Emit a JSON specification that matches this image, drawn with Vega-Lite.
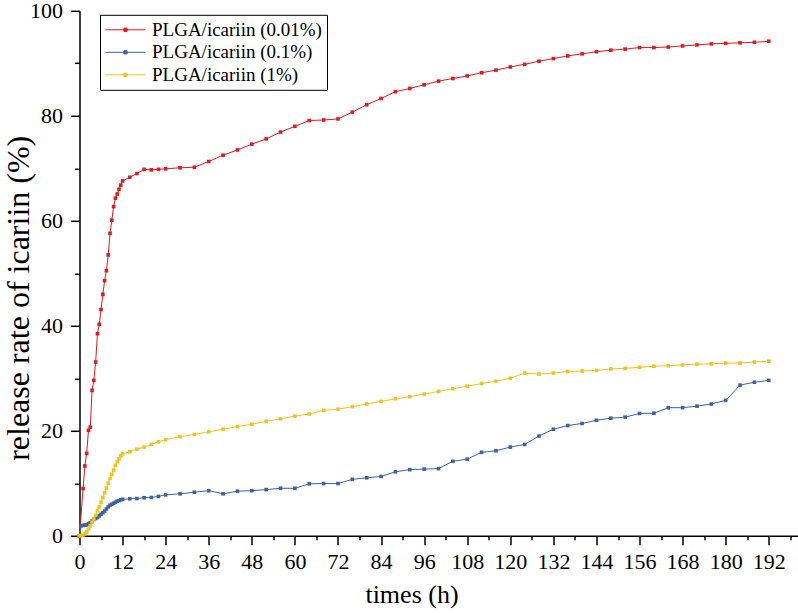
{
  "$schema": "https://vega.github.io/schema/vega-lite/v6.json",
  "autosize": {"type": "none"},
  "padding": {"left": 79.5, "top": 10.8, "right": 0.5, "bottom": 77.2},
  "width": 718,
  "height": 525,
  "background": "white",
  "config": {"view": {"stroke": null}, "font": "Liberation Serif"},
  "data": {"values": [
    {"s":"PLGA/icariin (0.01%)","t":0,"r":0},{"s":"PLGA/icariin (0.01%)","t":1,"r":9.0},{"s":"PLGA/icariin (0.01%)","t":1.5,"r":13.3},{"s":"PLGA/icariin (0.01%)","t":2,"r":15.7},{"s":"PLGA/icariin (0.01%)","t":2.5,"r":20.1},{"s":"PLGA/icariin (0.01%)","t":3,"r":20.7},{"s":"PLGA/icariin (0.01%)","t":3.5,"r":27.7},{"s":"PLGA/icariin (0.01%)","t":4,"r":29.6},{"s":"PLGA/icariin (0.01%)","t":4.5,"r":33.1},{"s":"PLGA/icariin (0.01%)","t":5,"r":38.5},{"s":"PLGA/icariin (0.01%)","t":5.5,"r":40.3},{"s":"PLGA/icariin (0.01%)","t":6,"r":43.1},{"s":"PLGA/icariin (0.01%)","t":6.5,"r":46.0},{"s":"PLGA/icariin (0.01%)","t":7,"r":48.6},{"s":"PLGA/icariin (0.01%)","t":7.5,"r":50.5},{"s":"PLGA/icariin (0.01%)","t":8,"r":53.5},{"s":"PLGA/icariin (0.01%)","t":8.5,"r":57.6},{"s":"PLGA/icariin (0.01%)","t":9,"r":60.1},{"s":"PLGA/icariin (0.01%)","t":9.5,"r":62.7},{"s":"PLGA/icariin (0.01%)","t":10,"r":64.3},{"s":"PLGA/icariin (0.01%)","t":10.5,"r":65.1},{"s":"PLGA/icariin (0.01%)","t":11,"r":66.0},{"s":"PLGA/icariin (0.01%)","t":11.5,"r":66.8},{"s":"PLGA/icariin (0.01%)","t":12,"r":67.6},{"s":"PLGA/icariin (0.01%)","t":14,"r":68.3},{"s":"PLGA/icariin (0.01%)","t":16,"r":69.0},{"s":"PLGA/icariin (0.01%)","t":18,"r":69.8},{"s":"PLGA/icariin (0.01%)","t":20,"r":69.7},{"s":"PLGA/icariin (0.01%)","t":22,"r":69.8},{"s":"PLGA/icariin (0.01%)","t":24,"r":69.9},{"s":"PLGA/icariin (0.01%)","t":28,"r":70.1},{"s":"PLGA/icariin (0.01%)","t":32,"r":70.2},{"s":"PLGA/icariin (0.01%)","t":36,"r":71.3},{"s":"PLGA/icariin (0.01%)","t":40,"r":72.5},{"s":"PLGA/icariin (0.01%)","t":44,"r":73.5},{"s":"PLGA/icariin (0.01%)","t":48,"r":74.6},{"s":"PLGA/icariin (0.01%)","t":52,"r":75.6},{"s":"PLGA/icariin (0.01%)","t":56,"r":76.9},{"s":"PLGA/icariin (0.01%)","t":60,"r":78.0},{"s":"PLGA/icariin (0.01%)","t":64,"r":79.1},{"s":"PLGA/icariin (0.01%)","t":68,"r":79.2},{"s":"PLGA/icariin (0.01%)","t":72,"r":79.4},{"s":"PLGA/icariin (0.01%)","t":76,"r":80.7},{"s":"PLGA/icariin (0.01%)","t":80,"r":82.1},{"s":"PLGA/icariin (0.01%)","t":84,"r":83.3},{"s":"PLGA/icariin (0.01%)","t":88,"r":84.6},{"s":"PLGA/icariin (0.01%)","t":92,"r":85.2},{"s":"PLGA/icariin (0.01%)","t":96,"r":85.9},{"s":"PLGA/icariin (0.01%)","t":100,"r":86.6},{"s":"PLGA/icariin (0.01%)","t":104,"r":87.1},{"s":"PLGA/icariin (0.01%)","t":108,"r":87.6},{"s":"PLGA/icariin (0.01%)","t":112,"r":88.2},{"s":"PLGA/icariin (0.01%)","t":116,"r":88.7},{"s":"PLGA/icariin (0.01%)","t":120,"r":89.3},{"s":"PLGA/icariin (0.01%)","t":124,"r":89.8},{"s":"PLGA/icariin (0.01%)","t":128,"r":90.4},{"s":"PLGA/icariin (0.01%)","t":132,"r":90.9},{"s":"PLGA/icariin (0.01%)","t":136,"r":91.4},{"s":"PLGA/icariin (0.01%)","t":140,"r":91.8},{"s":"PLGA/icariin (0.01%)","t":144,"r":92.2},{"s":"PLGA/icariin (0.01%)","t":148,"r":92.5},{"s":"PLGA/icariin (0.01%)","t":152,"r":92.7},{"s":"PLGA/icariin (0.01%)","t":156,"r":93.0},{"s":"PLGA/icariin (0.01%)","t":160,"r":93.0},{"s":"PLGA/icariin (0.01%)","t":164,"r":93.1},{"s":"PLGA/icariin (0.01%)","t":168,"r":93.3},{"s":"PLGA/icariin (0.01%)","t":172,"r":93.5},{"s":"PLGA/icariin (0.01%)","t":176,"r":93.7},{"s":"PLGA/icariin (0.01%)","t":180,"r":93.8},{"s":"PLGA/icariin (0.01%)","t":184,"r":93.9},{"s":"PLGA/icariin (0.01%)","t":188,"r":94.0},{"s":"PLGA/icariin (0.01%)","t":192,"r":94.2},
    {"s":"PLGA/icariin (0.1%)","t":0,"r":0},{"s":"PLGA/icariin (0.1%)","t":0.5,"r":1.9},{"s":"PLGA/icariin (0.1%)","t":1,"r":2.0},{"s":"PLGA/icariin (0.1%)","t":1.5,"r":2.05},{"s":"PLGA/icariin (0.1%)","t":2,"r":2.1},{"s":"PLGA/icariin (0.1%)","t":2.5,"r":2.3},{"s":"PLGA/icariin (0.1%)","t":3,"r":2.5},{"s":"PLGA/icariin (0.1%)","t":3.5,"r":2.8},{"s":"PLGA/icariin (0.1%)","t":4,"r":3.1},{"s":"PLGA/icariin (0.1%)","t":4.5,"r":3.3},{"s":"PLGA/icariin (0.1%)","t":5,"r":3.5},{"s":"PLGA/icariin (0.1%)","t":5.5,"r":3.8},{"s":"PLGA/icariin (0.1%)","t":6,"r":4.1},{"s":"PLGA/icariin (0.1%)","t":6.5,"r":4.4},{"s":"PLGA/icariin (0.1%)","t":7,"r":4.7},{"s":"PLGA/icariin (0.1%)","t":7.5,"r":5.1},{"s":"PLGA/icariin (0.1%)","t":8,"r":5.5},{"s":"PLGA/icariin (0.1%)","t":8.5,"r":5.8},{"s":"PLGA/icariin (0.1%)","t":9,"r":6.0},{"s":"PLGA/icariin (0.1%)","t":9.5,"r":6.2},{"s":"PLGA/icariin (0.1%)","t":10,"r":6.4},{"s":"PLGA/icariin (0.1%)","t":10.5,"r":6.6},{"s":"PLGA/icariin (0.1%)","t":11,"r":6.7},{"s":"PLGA/icariin (0.1%)","t":11.5,"r":6.85},{"s":"PLGA/icariin (0.1%)","t":12,"r":6.95},{"s":"PLGA/icariin (0.1%)","t":14,"r":7.05},{"s":"PLGA/icariin (0.1%)","t":16,"r":7.1},{"s":"PLGA/icariin (0.1%)","t":18,"r":7.25},{"s":"PLGA/icariin (0.1%)","t":20,"r":7.3},{"s":"PLGA/icariin (0.1%)","t":22,"r":7.5},{"s":"PLGA/icariin (0.1%)","t":24,"r":7.8},{"s":"PLGA/icariin (0.1%)","t":28,"r":8.0},{"s":"PLGA/icariin (0.1%)","t":32,"r":8.3},{"s":"PLGA/icariin (0.1%)","t":36,"r":8.6},{"s":"PLGA/icariin (0.1%)","t":40,"r":8.0},{"s":"PLGA/icariin (0.1%)","t":44,"r":8.5},{"s":"PLGA/icariin (0.1%)","t":48,"r":8.6},{"s":"PLGA/icariin (0.1%)","t":52,"r":8.8},{"s":"PLGA/icariin (0.1%)","t":56,"r":9.05},{"s":"PLGA/icariin (0.1%)","t":60,"r":9.05},{"s":"PLGA/icariin (0.1%)","t":64,"r":9.9},{"s":"PLGA/icariin (0.1%)","t":68,"r":9.95},{"s":"PLGA/icariin (0.1%)","t":72,"r":9.95},{"s":"PLGA/icariin (0.1%)","t":76,"r":10.75},{"s":"PLGA/icariin (0.1%)","t":80,"r":11.05},{"s":"PLGA/icariin (0.1%)","t":84,"r":11.3},{"s":"PLGA/icariin (0.1%)","t":88,"r":12.2},{"s":"PLGA/icariin (0.1%)","t":92,"r":12.6},{"s":"PLGA/icariin (0.1%)","t":96,"r":12.7},{"s":"PLGA/icariin (0.1%)","t":100,"r":12.8},{"s":"PLGA/icariin (0.1%)","t":104,"r":14.2},{"s":"PLGA/icariin (0.1%)","t":108,"r":14.6},{"s":"PLGA/icariin (0.1%)","t":112,"r":15.9},{"s":"PLGA/icariin (0.1%)","t":116,"r":16.2},{"s":"PLGA/icariin (0.1%)","t":120,"r":16.9},{"s":"PLGA/icariin (0.1%)","t":124,"r":17.4},{"s":"PLGA/icariin (0.1%)","t":128,"r":19.0},{"s":"PLGA/icariin (0.1%)","t":132,"r":20.3},{"s":"PLGA/icariin (0.1%)","t":136,"r":21.0},{"s":"PLGA/icariin (0.1%)","t":140,"r":21.4},{"s":"PLGA/icariin (0.1%)","t":144,"r":22.0},{"s":"PLGA/icariin (0.1%)","t":148,"r":22.4},{"s":"PLGA/icariin (0.1%)","t":152,"r":22.6},{"s":"PLGA/icariin (0.1%)","t":156,"r":23.3},{"s":"PLGA/icariin (0.1%)","t":160,"r":23.35},{"s":"PLGA/icariin (0.1%)","t":164,"r":24.4},{"s":"PLGA/icariin (0.1%)","t":168,"r":24.4},{"s":"PLGA/icariin (0.1%)","t":172,"r":24.7},{"s":"PLGA/icariin (0.1%)","t":176,"r":25.1},{"s":"PLGA/icariin (0.1%)","t":180,"r":25.8},{"s":"PLGA/icariin (0.1%)","t":184,"r":28.7},{"s":"PLGA/icariin (0.1%)","t":188,"r":29.25},{"s":"PLGA/icariin (0.1%)","t":192,"r":29.6},
    {"s":"PLGA/icariin (1%)","t":0,"r":0},{"s":"PLGA/icariin (1%)","t":0.5,"r":0.05},{"s":"PLGA/icariin (1%)","t":1,"r":0.15},{"s":"PLGA/icariin (1%)","t":1.5,"r":0.4},{"s":"PLGA/icariin (1%)","t":2,"r":0.8},{"s":"PLGA/icariin (1%)","t":2.5,"r":1.3},{"s":"PLGA/icariin (1%)","t":3,"r":1.9},{"s":"PLGA/icariin (1%)","t":3.5,"r":2.6},{"s":"PLGA/icariin (1%)","t":4,"r":3.2},{"s":"PLGA/icariin (1%)","t":4.5,"r":3.9},{"s":"PLGA/icariin (1%)","t":5,"r":4.8},{"s":"PLGA/icariin (1%)","t":5.5,"r":5.5},{"s":"PLGA/icariin (1%)","t":6,"r":6.4},{"s":"PLGA/icariin (1%)","t":6.5,"r":7.3},{"s":"PLGA/icariin (1%)","t":7,"r":8.2},{"s":"PLGA/icariin (1%)","t":7.5,"r":9.1},{"s":"PLGA/icariin (1%)","t":8,"r":10.0},{"s":"PLGA/icariin (1%)","t":8.5,"r":10.9},{"s":"PLGA/icariin (1%)","t":9,"r":11.7},{"s":"PLGA/icariin (1%)","t":9.5,"r":12.5},{"s":"PLGA/icariin (1%)","t":10,"r":13.4},{"s":"PLGA/icariin (1%)","t":10.5,"r":14.1},{"s":"PLGA/icariin (1%)","t":11,"r":14.7},{"s":"PLGA/icariin (1%)","t":11.5,"r":15.2},{"s":"PLGA/icariin (1%)","t":12,"r":15.6},{"s":"PLGA/icariin (1%)","t":14,"r":16.0},{"s":"PLGA/icariin (1%)","t":16,"r":16.5},{"s":"PLGA/icariin (1%)","t":18,"r":16.9},{"s":"PLGA/icariin (1%)","t":20,"r":17.4},{"s":"PLGA/icariin (1%)","t":22,"r":17.9},{"s":"PLGA/icariin (1%)","t":24,"r":18.3},{"s":"PLGA/icariin (1%)","t":28,"r":18.9},{"s":"PLGA/icariin (1%)","t":32,"r":19.3},{"s":"PLGA/icariin (1%)","t":36,"r":19.8},{"s":"PLGA/icariin (1%)","t":40,"r":20.3},{"s":"PLGA/icariin (1%)","t":44,"r":20.8},{"s":"PLGA/icariin (1%)","t":48,"r":21.25},{"s":"PLGA/icariin (1%)","t":52,"r":21.8},{"s":"PLGA/icariin (1%)","t":56,"r":22.3},{"s":"PLGA/icariin (1%)","t":60,"r":22.8},{"s":"PLGA/icariin (1%)","t":64,"r":23.2},{"s":"PLGA/icariin (1%)","t":68,"r":23.9},{"s":"PLGA/icariin (1%)","t":72,"r":24.1},{"s":"PLGA/icariin (1%)","t":76,"r":24.6},{"s":"PLGA/icariin (1%)","t":80,"r":25.1},{"s":"PLGA/icariin (1%)","t":84,"r":25.6},{"s":"PLGA/icariin (1%)","t":88,"r":26.1},{"s":"PLGA/icariin (1%)","t":92,"r":26.5},{"s":"PLGA/icariin (1%)","t":96,"r":27.0},{"s":"PLGA/icariin (1%)","t":100,"r":27.5},{"s":"PLGA/icariin (1%)","t":104,"r":28.0},{"s":"PLGA/icariin (1%)","t":108,"r":28.5},{"s":"PLGA/icariin (1%)","t":112,"r":29.0},{"s":"PLGA/icariin (1%)","t":116,"r":29.45},{"s":"PLGA/icariin (1%)","t":120,"r":30.0},{"s":"PLGA/icariin (1%)","t":124,"r":31.0},{"s":"PLGA/icariin (1%)","t":128,"r":30.8},{"s":"PLGA/icariin (1%)","t":132,"r":31.0},{"s":"PLGA/icariin (1%)","t":136,"r":31.3},{"s":"PLGA/icariin (1%)","t":140,"r":31.4},{"s":"PLGA/icariin (1%)","t":144,"r":31.5},{"s":"PLGA/icariin (1%)","t":148,"r":31.8},{"s":"PLGA/icariin (1%)","t":152,"r":31.9},{"s":"PLGA/icariin (1%)","t":156,"r":32.1},{"s":"PLGA/icariin (1%)","t":160,"r":32.3},{"s":"PLGA/icariin (1%)","t":164,"r":32.4},{"s":"PLGA/icariin (1%)","t":168,"r":32.55},{"s":"PLGA/icariin (1%)","t":172,"r":32.7},{"s":"PLGA/icariin (1%)","t":176,"r":32.75},{"s":"PLGA/icariin (1%)","t":180,"r":32.9},{"s":"PLGA/icariin (1%)","t":184,"r":32.9},{"s":"PLGA/icariin (1%)","t":188,"r":33.1},{"s":"PLGA/icariin (1%)","t":192,"r":33.25}
  ]},
  "mark": {"type": "line", "strokeWidth": 1, "point": {"shape": "square", "size": 13, "filled": true, "opacity": 1}},
  "encoding": {
    "x": {
      "field": "t", "type": "quantitative",
      "scale": {"domain": [0, 200], "nice": false, "zero": false},
      "axis": {
        "values": [0,6,12,18,24,30,36,42,48,54,60,66,72,78,84,90,96,102,108,114,120,126,132,138,144,150,156,162,168,174,180,186,192,198],
        "labelExpr": "datum.value % 12 === 0 ? datum.label : ''",
        "labelOverlap": false,
        "tickSize": {"condition": {"test": "datum.value % 12 === 0", "value": 9}, "value": 4},
        "tickWidth": 1.5, "tickColor": "black",
        "domainColor": "black", "domainWidth": 1.5,
        "grid": false,
        "labelFontSize": 22, "labelColor": "black", "labelPadding": 7, "labelFlush": false,
        "title": "times (h)", "titleFontSize": 26, "titleFontWeight": "normal", "titleColor": "black",
        "titleBaseline": "alphabetic", "titleX": 332, "titleY": 67
      }
    },
    "y": {
      "field": "r", "type": "quantitative",
      "scale": {"domain": [0, 100], "nice": false},
      "axis": {
        "values": [0,10,20,30,40,50,60,70,80,90,100],
        "labelExpr": "datum.value % 20 === 0 ? datum.label : ''",
        "labelOverlap": false,
        "tickSize": {"condition": {"test": "datum.value % 20 === 0", "value": 9}, "value": 5},
        "tickWidth": 1.5, "tickColor": "black",
        "domainColor": "black", "domainWidth": 1.5,
        "grid": false,
        "labelFontSize": 22, "labelColor": "black", "labelPadding": 8, "labelFlush": false,
        "title": "release rate of icariin (%)", "titleFontSize": 32, "titleFontWeight": "normal", "titleColor": "black",
        "titleBaseline": "alphabetic", "titleAngle": 270, "titleX": -51, "titleY": 287
      }
    },
    "color": {
      "field": "s", "type": "nominal",
      "scale": {"domain": ["PLGA/icariin (0.01%)", "PLGA/icariin (0.1%)", "PLGA/icariin (1%)"], "range": ["#e3191f", "#3b63a3", "#f5c21b"]},
      "legend": {
        "title": null, "orient": "none", "legendX": 20.5, "legendY": 4,
        "strokeColor": "black", "fillColor": "white", "padding": 5,
        "labelFontSize": 19, "labelColor": "black", "labelLimit": 400, "labelOffset": 6,
        "symbolType": "M-1,0L1,0M-0.08,-0.08L0.08,-0.08L0.08,0.08L-0.08,0.08Z",
        "symbolSize": 1600, "symbolStrokeWidth": 1, "clipHeight": 20, "rowPadding": 2.5,
        "encode": {"symbols": {"update": {"fill": {"scale": "color", "field": "value"}, "stroke": {"scale": "color", "field": "value"}, "opacity": {"value": 1}}}}
      }
    }
  }
}
